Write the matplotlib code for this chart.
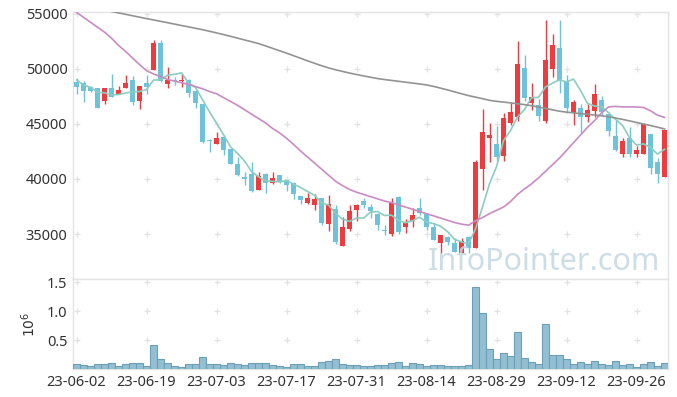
import matplotlib.pyplot as plt
import numpy as np
import pandas as pd

plt.rcParams['font.family'] = ['Noto Sans', 'DejaVu Sans']

opens = [48850, 48700, 48360, 48250, 47120, 48270, 47730, 48270, 49000, 47120,
         48755, 49910, 52390, 48640, 49000, 48940, 49000, 48030, 46820, 43570,
         43210, 43850, 42730, 41360, 40180, 40450, 38970, 40450, 39640, 40360,
         39910, 39610, 38450, 37820, 37670, 38250, 35880, 37250, 33940, 35480,
         37210, 38000, 37450, 36850, 35360, 35030, 38390, 35670, 36210, 37330,
         36820, 35640, 34180, 34700, 34210, 33250, 34700, 33760, 40910, 43750,
         43180, 42120, 45120, 45670, 50090, 46940, 46730, 45300, 50000, 51940,
         48940, 46030, 46480, 45670, 46210, 47180, 45910, 43910, 42250, 43760,
         42270, 42270, 44090, 41520, 40150]
highs = [49180, 48880, 48450, 48300, 48270, 49550, 48450, 49455, 49360, 48455,
         49455, 52640, 52640, 50150, 49300, 49545, 49100, 48100, 46820, 43650,
         44270, 44000, 42750, 41970, 40610, 41520, 40640, 40500, 40610, 40400,
         39950, 39700, 38500, 38760, 38610, 38300, 38550, 37600, 36580, 37640,
         37700, 38250, 37700, 36900, 35820, 38300, 38480, 36330, 37390, 38300,
         36900, 36000, 34950, 34800, 34610, 34600, 34800, 41700, 46360, 45060,
         44820, 45970, 46940, 52550, 51270, 48700, 47300, 54450, 53150, 54450,
         49450, 47200, 46800, 46790, 48640, 47570, 46000, 45360, 43760, 44700,
         43030, 45000, 44100, 41900, 44450]
lows = [47730, 47030, 47940, 46480, 46820, 47480, 47730, 48270, 46700, 46340,
        47730, 49910, 48790, 48250, 48545, 48335, 47430, 46450, 43240, 42450,
        43150, 42180, 41390, 40270, 39450, 38820, 38970, 38760, 39550, 39600,
        38940, 38160, 37700, 37700, 37210, 35820, 35270, 34070, 33900, 35300,
        36150, 37400, 36430, 35360, 34910, 34790, 35000, 35060, 35610, 36700,
        35360, 34480, 33250, 34000, 33390, 33250, 33250, 33760, 39000, 41570,
        41670, 41670, 44900, 45300, 47100, 46270, 45270, 45100, 49300, 47790,
        45970, 44910, 44210, 45210, 45670, 45730, 43910, 42500, 41970, 41970,
        41970, 42270, 40450, 39610, 40150]
closes = [48340, 48030, 48030, 46480, 48270, 47480, 48090, 48755, 47000, 48455,
          48335, 52390, 48940, 49000, 48910, 49000, 47850, 46880, 43390, 43480,
          43730, 42670, 41390, 40390, 40030, 38940, 40270, 39610, 40060, 39850,
          39490, 38640, 38090, 38250, 38150, 36030, 37700, 34300, 35610, 37060,
          37640, 37610, 37060, 35820, 35270, 37820, 35180, 36030, 36730, 36880,
          35610, 34480, 34880, 34270, 33390, 34360, 33700, 41520, 44300, 44000,
          42030, 45570, 46120, 50450, 47390, 47430, 45730, 50820, 52180, 48910,
          46480, 47030, 45670, 46270, 47730, 46120, 44390, 42640, 43450, 42250,
          42640, 45000, 40970, 40450, 44450]
# closes of the 4 trading days before the window (for the 5-day average)
pre_closes = [50280, 49130, 48625, 48625]

ma20 = [55150, 54700, 54250, 53800, 53350, 52800, 52150, 51600, 51000, 50400,
        49850, 49550, 49300, 49050, 48900, 48750, 48600, 48400, 48200, 47950,
        47750, 47400, 47050, 46700, 46300, 45900, 45500, 45100, 44600, 44200,
        43700, 43150, 42550, 42000, 41450, 40900, 40350, 39800, 39400, 39050,
        38800, 38600, 38400, 38200, 38000, 37850, 37650, 37450, 37250, 37050,
        36850, 36650, 36450, 36250, 36050, 35900, 35800, 36200, 36500, 36850,
        37150, 37450, 37950, 38600, 39100, 39550, 40100, 40700, 41300, 41900,
        42600, 43300, 44000, 44700, 45300, 46000, 46550, 46600, 46550, 46550,
        46550, 46500, 46200, 45800, 45600]
ma60 = [55880, 55750, 55620, 55490, 55360, 55230, 55100, 54970, 54840, 54710,
        54580, 54460, 54330, 54210, 54080, 53950, 53830, 53700, 53570, 53430,
        53280, 53130, 52970, 52810, 52640, 52480, 52310, 52100, 51880, 51660,
        51440, 51210, 50980, 50740, 50520, 50300, 50100, 49930, 49780, 49630,
        49500, 49370, 49250, 49130, 49040, 48960, 48880, 48800, 48720, 48640,
        48550, 48420, 48260, 48100, 47920, 47750, 47580, 47440, 47300, 47150,
        47060, 46990, 46920, 46840, 46760, 46660, 46540, 46420, 46290, 46160,
        46080, 46010, 45940, 45880, 45820, 45750, 45650, 45540, 45420, 45280,
        45140, 45000, 44860, 44710, 44550]

volume_m = [0.08, 0.064, 0.047, 0.08, 0.08, 0.098, 0.047, 0.08, 0.098, 0.098,
            0.047, 0.41, 0.167, 0.098, 0.047, 0.03, 0.08, 0.08, 0.2, 0.08,
            0.08, 0.064, 0.098, 0.08, 0.064, 0.098, 0.098, 0.098, 0.064, 0.047,
            0.03, 0.08, 0.08, 0.047, 0.047, 0.115, 0.13, 0.167, 0.08, 0.064,
            0.064, 0.047, 0.047, 0.064, 0.064, 0.098, 0.115, 0.047, 0.098, 0.08,
            0.047, 0.064, 0.064, 0.047, 0.047, 0.047, 0.064, 1.41, 0.96, 0.34,
            0.167, 0.27, 0.22, 0.63, 0.184, 0.115, 0.08, 0.77, 0.25, 0.25,
            0.167, 0.08, 0.115, 0.08, 0.13, 0.08, 0.064, 0.13, 0.064, 0.08,
            0.03, 0.08, 0.115, 0.047, 0.098]

tick_labels = ["23-06-02", "23-06-19", "23-07-03", "23-07-17", "23-07-31",
               "23-08-14", "23-08-29", "23-09-12", "23-09-26"]
price_ticks = [35000, 40000, 45000, 50000, 55000]
vol_ticks = [0.5, 1.0, 1.5]

UP = "#f03b3e"
DOWN = "#6ec2da"
GRID = "#e2e2e2"
SPINE = "#e4e4e4"
TEXT = "#333333"

x = np.arange(len(closes))
xt = np.arange(len(tick_labels)) * 10
ma5 = pd.Series(pre_closes + closes).rolling(5).mean().iloc[4:].to_numpy()

fig = plt.figure(figsize=(6.77, 3.97), dpi=100)
ax = fig.add_axes([73 / 677, 1 - 279 / 397, 595 / 677, 267 / 397])
axv = fig.add_axes([73 / 677, 1 - 369 / 397, 595 / 677, 90 / 397], sharex=ax)

# candles
o = np.array(opens)
c = np.array(closes)
cols = np.where(c >= o, UP, DOWN)
ax.vlines(x, lows, highs, colors=cols, linewidth=1.0, zorder=3)
bottom = np.minimum(o, c)
height = np.maximum(np.abs(c - o), 60)
ax.bar(x, height, 0.68, bottom=bottom, color=cols, linewidth=0, zorder=4)

ax.plot(x, ma5, color="#8ccdbf", lw=1.2, zorder=5)
ax.plot(x, ma20, color="#c98bc4", lw=1.2, zorder=5)
ax.plot(x, ma60, color="#939393", lw=1.2, zorder=5)

ax.set_xlim(-0.5, len(closes) - 0.5)
ax.set_ylim(30910, 55180)
ax.set_yticks(price_ticks)
ax.set_yticklabels([str(v) for v in price_ticks])

gx, gy = np.meshgrid(xt, price_ticks)
ax.scatter(gx.ravel(), gy.ravel(), marker="+", s=20, color=GRID, lw=0.9, zorder=0)

ax.text(0.987, 0.034, "InfoPointer.com", transform=ax.transAxes, ha="right",
        va="baseline", fontsize=22, color="#c3d7e2", alpha=0.85, zorder=10)

# volume
axv.bar(x, volume_m, 1.0, color="#94bfd2", edgecolor="#6c9fb8", linewidth=0.8, zorder=3)
axv.set_ylim(0, 1.552)
axv.set_yticks(vol_ticks)
axv.set_yticklabels(["0.5", "1.0", "1.5"])
axv.set_ylabel(r"$10^6$", fontsize=10, color=TEXT, labelpad=6)
gx, gy = np.meshgrid(xt, vol_ticks)
axv.scatter(gx.ravel(), gy.ravel(), marker="+", s=20, color=GRID, lw=0.9, zorder=0)

axv.set_xticks(xt)
axv.set_xticklabels(tick_labels)
ax.tick_params(axis="x", labelbottom=False)

for a in (ax, axv):
    a.tick_params(length=0, labelsize=10.5, colors=TEXT, pad=4)
    for s in a.spines.values():
        s.set_color(SPINE)
        s.set_linewidth(1.0)

fig.savefig("out.png", dpi=100)
